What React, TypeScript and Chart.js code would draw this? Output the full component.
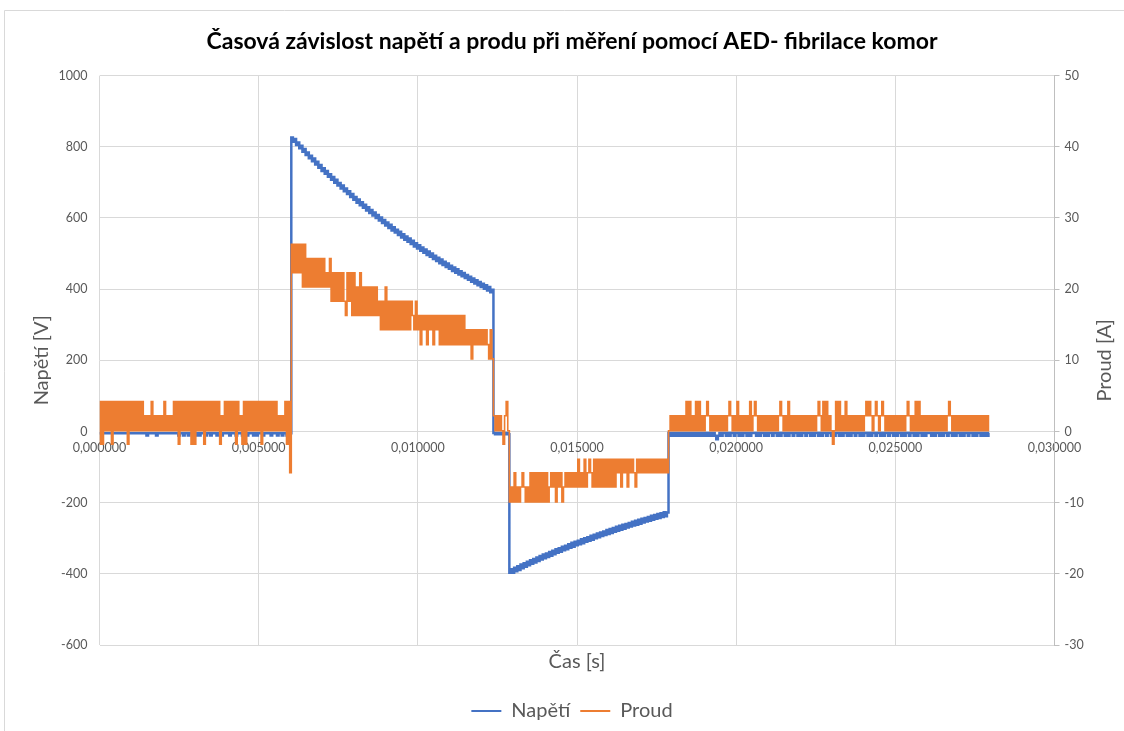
import React, { useEffect, useRef } from "react";
import { Chart, registerables } from "chart.js";

Chart.register(...registerables);

// Sampling interval of the recording [s]
const DT = 0.00005;

// Quantized current levels: code character -> amperes
const CURRENT_LEVEL_CODES = "EDCBA0123456789abcd";
const CURRENT_LEVEL_AMPS = [
  -9.9, -7.8, -5.8, -3.9, -1.8, 0.1, 2.2, 4.2, 6.2, 8.2, 10.2, 12.2, 14.3, 16.3, 18.3, 20.3,
  22.3, 24.3, 26.3,
];

// Current (Proud) samples, one code per sample
const currentPre =
  "A2A20202A2" +
  "02020202A2" +
  "0202020201" +
  "0102010101" +
  "0201010202" +
  "A2020202A2" +
  "A20202A202" +
  "020202A102" +
  "020202A201" +
  "A2A2020202" +
  "02A2020202" +
  "02010102A2C";
const currentShock1 =
  "dbdbdbd" +
  "adacacacacac" +
  "acabac" +
  "9b9b9b9b98b9b" +
  "8b8a8b8a8a8a8a8a8" +
  "9797a7979797979797979" +
  "87978" +
  "6878687868786" +
  "868686868686" +
  "868676757676767676" +
  "575";
const currentGap = "101010A120";
const currentShock2 =
  "EDECEDEDCDEDECE" +
  "CECECECECE" +
  "DCDCECDCE" +
  "DCDCDCDC" +
  "DBDCDBDCBCDB" +
  "DBDBDBDBDBDBDB" +
  "CBDBCBDBCBCDBCB" +
  "CBCBCBCBCBCBCBCBC";
const currentPost =
  "0101010101" +
  "0202010202" +
  "0101210101" +
  "0101010121" +
  "0102010101" +
  "0201210101" +
  "0101010101" +
  "2101020101" +
  "0101010101" +
  "0101210202" +
  "010A020201" +
  "0201010101" +
  "0101212101" +
  "2101210101" +
  "0101010101" +
  "2101020201" +
  "0101010101" +
  "0101012101" +
  "0101010101" +
  "0101010101" +
  "01";

// Voltage (Napětí) samples [V]
const voltagePre = [
  -5, -5, -5, -5, -5, -5, -5, -5, -5, -5,
  -5, -5, -5, -5, -5, -5, -5, -5, -5, -5,
  -5, -5, -5, -5, -5, -5, -5, -5, -5, -5,
  -11, -5, -5, -5, -5, -5, -11, -5, -5, -5,
  -5, -5, -5, -5, -5, -5, -5, -5, -5, -5,
  -11, -5, -5, -11, -5, -5, -11, -5, -5, -11,
  -5, -11, -5, -11, -5, -5, -5, -11, -5, -5,
  -11, -5, -5, -5, -11, -5, -5, -11, -5, -5,
  -5, -5, -11, -5, -5, -5, -11, -5, -5, -5,
  -11, -5, -5, -11, -5, -5, -5, -11, -5, -11,
  -5, -5, -5, -11, -5, -5, -5, -5, -11, -5,
  -5, -5, -11, -5, -5, -11, -5, -5, -11, -5, -5,
];
const voltageShock1 = [
  826, 814, 822, 805, 812, 796, 803, 786, 794, 777,
  784, 768, 775, 759, 767, 750, 758, 741, 749, 732,
  740, 724, 732, 716, 723, 707, 715, 699, 707, 691,
  698, 683, 691, 675, 683, 667, 675, 659, 667, 651,
  659, 643, 652, 636, 644, 629, 637, 621, 630, 614,
  622, 607, 615, 600, 608, 593, 601, 586, 594, 579,
  587, 572, 581, 565, 574, 559, 567, 552, 561, 545,
  554, 539, 548, 533, 542, 527, 536, 520, 529, 514,
  523, 508, 517, 502, 511, 496, 506, 491, 500, 485,
  494, 479, 488, 473, 483, 468, 477, 462, 472, 457,
  466, 451, 461, 446, 456, 441, 450, 436, 445, 431,
  440, 426, 435, 421, 430, 416, 425, 411, 420, 406,
  415, 401, 411, 396, 406, 391, 398,
];
const voltageGap = [-4, -8, -4, -8, -4, -8, -4, -8, -4, -8];
const voltageShock2 = [
  -397, -387, -397, -383, -393, -379, -389, -374, -384, -370,
  -380, -366, -376, -362, -372, -358, -368, -354, -364, -350,
  -360, -346, -356, -343, -353, -339, -349, -335, -345, -331,
  -341, -328, -338, -324, -334, -321, -331, -317, -327, -313,
  -324, -310, -320, -307, -317, -303, -314, -300, -310, -297,
  -307, -293, -304, -290, -300, -287, -297, -284, -294, -281,
  -291, -277, -288, -274, -285, -271, -282, -268, -279, -265,
  -276, -262, -273, -260, -270, -257, -267, -254, -264, -251,
  -262, -248, -259, -245, -256, -243, -253, -240, -251, -237,
  -248, -235, -245, -232, -243, -230, -240, -227, -238, -228,
];
const voltagePost = [
  -4, -12, -4, -12, -4, -12, -4, -12, -4, -12,
  -4, -12, -4, -12, -4, -12, -4, -12, -4, -12,
  -4, -12, -4, -12, -4, -12, -4, -12, -4, -12,
  -22, -12, -4, -12, -4, -4, -12, -4, -12, -4,
  -4, -12, -4, -4, -12, -4, -12, -4, -4, -12,
  -4, -12, -4, -4, -4, -12, -4, -12, -4, -4,
  -12, -4, -12, -4, -4, -12, -4, -4, -12, -4,
  -12, -4, -4, -12, -4, -12, -4, -4, -12, -4,
  -4, -12, -4, -12, -4, -4, -12, -4, -4, -12,
  -4, -12, -4, -4, -12, -4, -12, -4, -4, -12,
  -4, -4, -12, -4, -12, -4, -4, -12, -4, -12,
  -4, -4, -12, -4, -12, -4, -4, -12, -4, -4,
  -12, -4, -12, -4, -4, -12, -4, -12, -4, -4,
  -12, -4, -4, -12, -4, -12, -4, -4, -12, -4,
  -4, -12, -4, -12, -4, -4, -12, -4, -12, -4,
  -4, -12, -4, -4, -12, -4, -12, -4, -4, -12,
  -4, -12, -4, -4, -4, -12, -4, -12, -4, -4,
  -12, -4, -12, -4, -4, -12, -4, -4, -12, -4,
  -12, -4, -4, -12, -4, -12, -4, -4, -12, -4,
  -4, -12, -4, -12, -4, -4, -12, -4, -12, -4,
  -12, -4,
];

// Axis ranges / ticks
const X_MIN = 0;
const X_MAX = 0.03;
const X_STEP = 0.005;
const V_MIN = -600;
const V_MAX = 1000;
const V_STEP = 200;
const A_MIN = -30;
const A_MAX = 50;
const A_STEP = 10;

const TITLE = "Časová závislost napětí a produ při měření pomocí AED- fibrilace komor";
const X_TITLE = "Čas [s]";
const V_TITLE = "Napětí [V]";
const A_TITLE = "Proud [A]";
const SERIES_NAMES = ["Napětí", "Proud"];

const FONT = "Lato, 'Open Sans', sans-serif";
const TEXT = "#595959";
const GRID = "#d9d9d9";
const BLUE = "#4472C4";
const ORANGE = "#ED7D31";

const currentCodes = currentPre + currentShock1 + currentGap + currentShock2 + currentPost;
const currentValues = Array.from(currentCodes).map(
  (c) => CURRENT_LEVEL_AMPS[CURRENT_LEVEL_CODES.indexOf(c)]
);
const voltageValues = [
  ...voltagePre,
  ...voltageShock1,
  ...voltageGap,
  ...voltageShock2,
  ...voltagePost,
];

const voltagePoints = voltageValues.map((v, i) => ({ x: i * DT, y: v }));
const currentPoints = currentValues.map((a, i) => ({ x: i * DT, y: a }));

const frame = {
  id: "frame",
  beforeDraw(chart: any) {
    const ctx = chart.ctx;
    ctx.save();
    ctx.fillStyle = "#ffffff";
    ctx.fillRect(0, 0, chart.width, chart.height);
    ctx.strokeStyle = GRID;
    ctx.lineWidth = 1;
    ctx.beginPath();
    ctx.moveTo(4.5, chart.height + 2);
    ctx.lineTo(4.5, 10.5);
    ctx.lineTo(chart.width + 2, 10.5);
    ctx.stroke();
    ctx.restore();
  },
};

const rightTitle = {
  id: "rightTitle",
  afterDraw(chart: any) {
    const ctx = chart.ctx;
    const area = chart.chartArea;
    ctx.save();
    ctx.translate(1105, (area.top + area.bottom) / 2);
    ctx.rotate(-Math.PI / 2);
    ctx.fillStyle = TEXT;
    ctx.font = `20px ${FONT}`;
    ctx.textAlign = "center";
    ctx.textBaseline = "middle";
    ctx.fillText(A_TITLE, 0, 0);
    ctx.restore();
  },
};

export default function App() {
  const ref = useRef<HTMLCanvasElement>(null);

  useEffect(() => {
    const canvas = ref.current;
    if (!canvas) return;
    const chart = new Chart(canvas, {
      type: "line",
      data: {
        datasets: [
          {
            label: SERIES_NAMES[0],
            data: voltagePoints,
            yAxisID: "y",
            borderColor: BLUE,
            backgroundColor: BLUE,
            borderWidth: 2.5,
            pointRadius: 0,
            stepped: "middle",
            order: 2,
          },
          {
            label: SERIES_NAMES[1],
            data: currentPoints,
            yAxisID: "y1",
            borderColor: ORANGE,
            backgroundColor: ORANGE,
            borderWidth: 1.6,
            pointRadius: 0,
            stepped: "middle",
            order: 1,
          },
        ],
      },
      options: {
        animation: false,
        responsive: false,
        maintainAspectRatio: false,
        events: [],
        layout: { padding: { left: 20, right: 0, top: 0, bottom: 0 } },
        scales: {
          x: {
            type: "linear",
            position: { y: 0 },
            min: X_MIN,
            max: X_MAX,
            ticks: {
              stepSize: X_STEP,
              autoSkip: false,
              maxRotation: 0,
              color: TEXT,
              font: { family: FONT, size: 12.5 },
              padding: 9,
              callback: (v: any) => Number(v).toFixed(6).replace(".", ","),
            },
            grid: { color: GRID, drawTicks: false, lineWidth: 1 },
            border: { display: true, color: GRID },
          },
          xTitle: {
            type: "linear",
            position: "bottom",
            min: X_MIN,
            max: X_MAX,
            ticks: { display: false },
            grid: { display: false, drawTicks: false },
            border: { display: false },
            title: {
              display: true,
              text: X_TITLE,
              color: TEXT,
              font: { family: FONT, size: 20 },
              padding: { top: 0, bottom: 17 },
            },
            afterFit: (s: any) => {
              s.height = 46;
            },
          },
          y: {
            type: "linear",
            position: "left",
            min: V_MIN,
            max: V_MAX,
            ticks: {
              stepSize: V_STEP,
              color: TEXT,
              font: { family: FONT, size: 12.5 },
              padding: 12,
              callback: (v: any) => String(v),
            },
            grid: { color: GRID, drawTicks: false },
            border: { display: false },
            title: {
              display: true,
              text: V_TITLE,
              color: TEXT,
              font: { family: FONT, size: 20 },
              padding: { top: 10, bottom: 0 },
            },
            afterFit: (s: any) => {
              s.width = 79.5;
            },
          },
          y1: {
            type: "linear",
            position: "right",
            min: A_MIN,
            max: A_MAX,
            ticks: {
              stepSize: A_STEP,
              color: TEXT,
              font: { family: FONT, size: 12.5 },
              padding: 5,
              callback: (v: any) => String(v),
            },
            grid: { drawOnChartArea: false, drawTicks: true, tickLength: 5, color: "#bfbfbf" },
            border: { display: true, color: "#bfbfbf" },
            afterFit: (s: any) => {
              s.width = 69.5;
            },
          },
        },
        plugins: {
          title: {
            display: true,
            text: TITLE,
            color: "#000000",
            font: { family: FONT, size: 23, weight: "bold" },
            padding: { top: 28, bottom: 20 },
          },
          legend: {
            position: "bottom",
            labels: {
              color: TEXT,
              font: { family: FONT, size: 20 },
              boxWidth: 30,
              boxHeight: 2,
              padding: 10,
              generateLabels: (ch: any) =>
                ch.data.datasets.map((ds: any, i: number) => ({
                  text: ds.label,
                  fillStyle: ds.borderColor,
                  strokeStyle: ds.borderColor,
                  lineWidth: 0,
                  hidden: false,
                  datasetIndex: i,
                  fontColor: TEXT,
                })),
            },
          },
          tooltip: { enabled: false },
        },
      } as any,
      plugins: [frame, rightTitle],
    });
    return () => chart.destroy();
  }, []);

  return (
    <div style={{ position: "absolute", left: 0, top: 0, width: 1124, height: 731, background: "#fff" }}>
      <canvas ref={ref} width={1124} height={731} style={{ display: "block", width: 1124, height: 731 }} />
    </div>
  );
}
